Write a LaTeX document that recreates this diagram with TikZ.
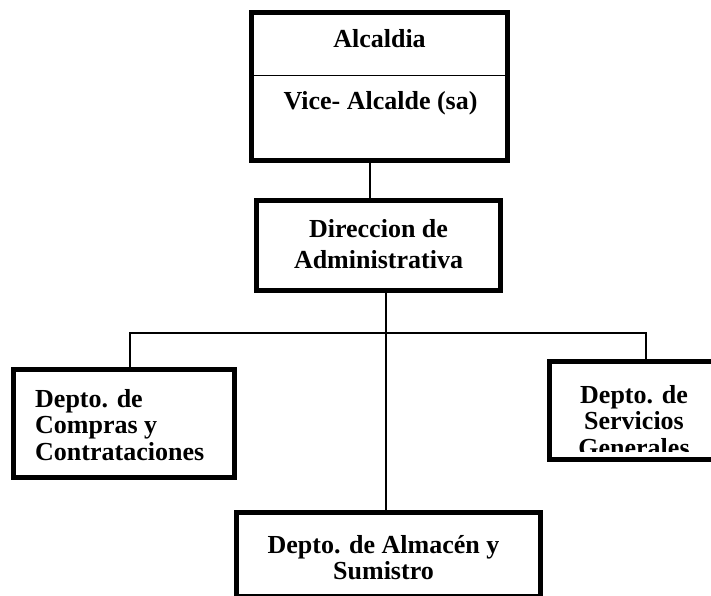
\documentclass[tikz,border=0pt]{standalone}
\usepackage{fontspec}
\setmainfont{Liberation Serif}
\tikzset{
  orgbox/.style={draw, rectangle, line width=5pt, inner sep=0pt},
  orgtext/.style={font=\bfseries\fontsize{26}{26.5}\selectfont, inner sep=0pt},
  link/.style={line width=1.5pt}
}

\begin{document}
\begin{tikzpicture}[x=1pt,y=-1pt]
\useasboundingbox (0,0) rectangle (711,596);
\clip (0,0) rectangle (711,596);

% boxes
\node[orgbox, minimum width=256pt, minimum height=148pt] (alcaldia) at (379.5,86.5) {};
\node[orgbox, minimum width=244pt, minimum height=90pt] (direccion) at (378.5,245.5) {};
\node[orgbox, minimum width=221pt, minimum height=108pt] (compras) at (124,423.5) {};
\node[orgbox, minimum width=164pt, minimum height=98pt] (servicios) at (631.5,410.5) {};
\node[orgbox, minimum width=304pt, minimum height=83.5pt] (almacen) at (388.5,554.25) {};

\draw[line width=1pt] (alcaldia.west |- 0,76) -- (alcaldia.east |- 0,76);

% texts (base = last line)
\node[orgtext, anchor=base] (alcaldiatxt) at (379.5,48) {Alcaldia};
\node[orgtext, anchor=base] (vicetxt) at (380.5,110) {Vice- Alcalde (sa)};
\node[orgtext, anchor=base, align=center, font=\bfseries\fontsize{26}{31}\selectfont] (direcciontxt) at (378.5,268) {Direccion de\\Administrativa};
\node[orgtext, anchor=base west, align=left] (comprastxt) at (35,460) {Depto. de\\Compras y\\Contrataciones};
\begin{scope}
  \clip (549.5,361.5) ++(2.5,2.5) rectangle (711,451);
  \node[orgtext, anchor=base, align=center] (serviciostxt) at (634,456) {Depto. de\\Servicios\\Generales};
\end{scope}
\node[orgtext, anchor=base, align=center, font=\bfseries\fontsize{26}{26}\selectfont] (almacentxt) at (383.5,579) {Depto. de Almac\'en y\\Sumistro};

% connectors
\coordinate (bar) at (386,333);
\draw[link] ([xshift=-9.5pt]alcaldia.south) -- ([xshift=-9.5pt]alcaldia.south |- direccion.north);
\draw[link] ([xshift=7.5pt]direccion.south) -- ([xshift=7.5pt]direccion.south |- almacen.north);
\draw[link] ([xshift=6pt]compras.north) |- (bar) -| ([xshift=14.5pt]servicios.north);
\end{tikzpicture}
\end{document}
